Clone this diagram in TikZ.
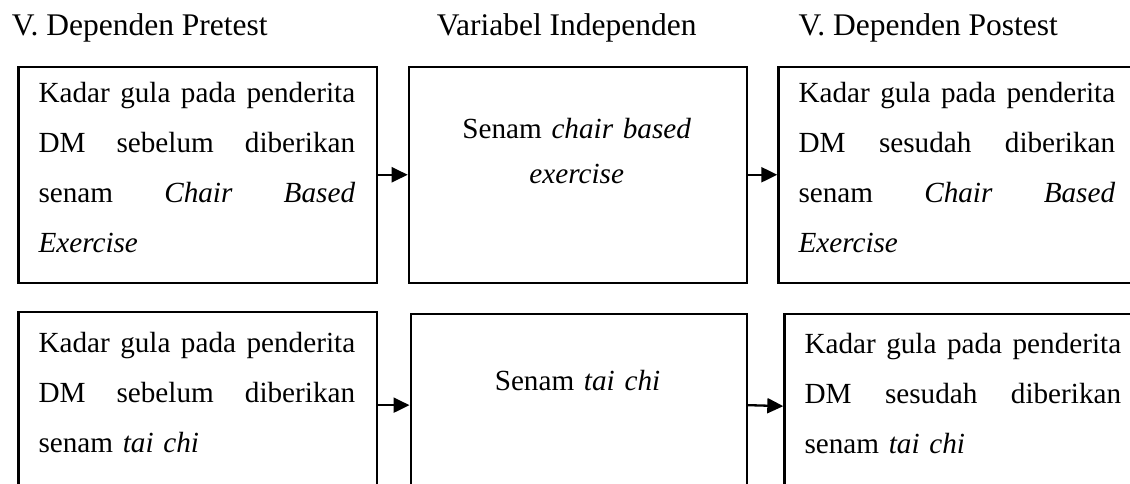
\documentclass[tikz,border=0pt]{standalone}
\usepackage{fontspec}
\setmainfont{Liberation Serif}
\usetikzlibrary{arrows.meta}
\newlength{\lw}
\setlength{\lw}{316.7pt}
\newcommand{\jline}[1]{\leavevmode\hbox to \lw{#1}}
\begin{document}
\begin{tikzpicture}[x=1pt,y=-1pt,
  boxnode/.style={draw=black, line width=2.3pt, rectangle, inner sep=0pt, anchor=north west},
  ttl/.style={inner sep=0pt, anchor=base west, font=\fontsize{31.5}{38}\selectfont},
  btxt/.style={inner sep=0pt, anchor=base west, text width=\lw, align=left, font=\fontsize{29.2}{50}\selectfont},
  ctxt/.style={inner sep=0pt, anchor=base, text width=\lw, align=center, font=\fontsize{29.2}{45}\selectfont},
  arr/.style={line width=2.3pt, -{Triangle[length=16pt,width=15pt]}}]
\useasboundingbox (0,0) rectangle (1130,483);
\clip (0,0) rectangle (1130,483);
\fill[white] (0,0) rectangle (1130,483);
% titles
\node[ttl] (t1) at (11.7,35) {V. Dependen Pretest};
\node[ttl] (t2) at (436.7,35) {Variabel Independen};
\node[ttl] (t3) at (798.5,35) {V. Dependen Postest};
% top row boxes
\node[boxnode, minimum width=358.4pt, minimum height=216.2pt] (b1) at (17.3,65.5) {};
\node[boxnode, minimum width=338pt, minimum height=216.2pt] (b2) at (407.7,65.5) {};
\node[boxnode, minimum width=358.4pt, minimum height=216.2pt] (b3) at (777.3,65.5) {};
% bottom row boxes
\node[boxnode, minimum width=358.4pt, minimum height=186pt] (b4) at (17.3,311) {};
\node[boxnode, minimum width=336.2pt, minimum height=182pt] (b5) at (409.5,313) {};
\node[boxnode, minimum width=358.4pt, minimum height=184pt] (b6) at (783.3,313) {};
% texts
\node[btxt] (x1) at (38.3,102) {%
\jline{Kadar\hfill gula\hfill pada\hfill penderita}\\
\jline{DM\hfill sebelum\hfill diberikan}\\
\jline{senam\hfill \textit{Chair}\hfill \textit{Based}}\\
\textit{Exercise}};
\node[ctxt] (x2) at (576.7,138) {Senam \textit{chair based}\\ \textit{exercise}};
\node[btxt] (x3) at (798.3,102) {%
\jline{Kadar\hfill gula\hfill pada\hfill penderita}\\
\jline{DM\hfill sesudah\hfill diberikan}\\
\jline{senam\hfill \textit{Chair}\hfill \textit{Based}}\\
\textit{Exercise}};
\node[btxt] (x4) at (38.3,352) {%
\jline{Kadar\hfill gula\hfill pada\hfill penderita}\\
\jline{DM\hfill sebelum\hfill diberikan}\\
senam \textit{tai chi}};
\node[ctxt] (x5) at (577.5,390.5) {Senam \textit{tai chi}};
\node[btxt] (x6) at (804.3,353) {%
\jline{Kadar\hfill gula\hfill pada\hfill penderita}\\
\jline{DM\hfill sesudah\hfill diberikan}\\
senam \textit{tai chi}};
% arrows
\draw[arr] (b1.east) -- (b2.west);
\draw[arr] (b2.east) -- (b3.west);
\draw[arr] (b4.east) -- (b5.west);
\draw[arr] (b5.east) -- (b6.west);
\end{tikzpicture}
\end{document}
